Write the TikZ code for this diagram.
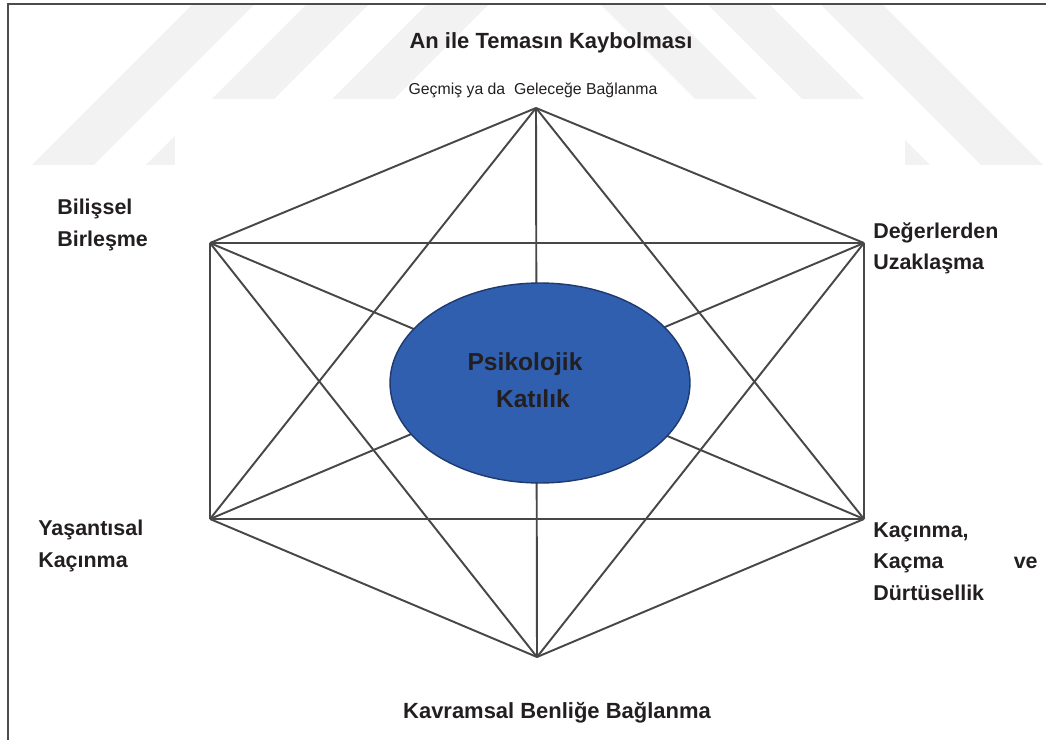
\documentclass[tikz,border=0pt]{standalone}
\usepackage{fontspec}
\setmainfont{Liberation Sans}
\usetikzlibrary{shapes.geometric}

\definecolor{corefill}{HTML}{2F5FAE}
\definecolor{coreline}{HTML}{1E3A6E}
\definecolor{textdark}{HTML}{231F20}

\begin{document}
\begin{tikzpicture}[x=0.02cm, y=-0.02cm]
    \tikzset{
        edge/.style={draw=black!72, line width=1.1pt},
        core/.style={
            ellipse, fill=corefill, draw=coreline, line width=0.8pt,
            minimum width=6cm, minimum height=4cm, inner sep=0pt,
        },
        coretext/.style={font=\fontsize{14}{21}\selectfont\bfseries, text=textdark, align=center, inner sep=0pt},
        sidetext/.style={font=\fontsize{12.2}{18}\selectfont\bfseries, text=textdark, align=left, inner sep=0pt, anchor=north west},
        band/.style={fill=black!5},
        frame/.style={draw=black!70, line width=1pt},
    }
    \useasboundingbox (0,0) rectangle (1046,740);

    % Watermark
    \begin{scope}
        \clip (0,4) rectangle (1046,165);
        \fill[band] (193,4) -- (255,4) -- (-45,304) -- (-107,304) -- cycle;
        \fill[band] (307,4) -- (369,4) -- (69,304) -- (7,304) -- cycle;
        \fill[band] (427,4) -- (489,4) -- (189,304) -- (127,304) -- cycle;
        \fill[band] (600,4) -- (662,4) -- (962,304) -- (900,304) -- cycle;
        \fill[band] (707,4) -- (769,4) -- (1069,304) -- (1007,304) -- cycle;
        \fill[band] (820,4) -- (882,4) -- (1182,304) -- (1120,304) -- cycle;
    \end{scope}
    \fill[white] (175,99) rectangle (905,700);

    % Vertices
    \coordinate (top) at (536,108);
    \coordinate (ur) at (864,243);
    \coordinate (lr) at (864,519);
    \coordinate (bot) at (537,657);
    \coordinate (ll) at (210,519);
    \coordinate (ul) at (210,243);

    % Edges
    \draw[edge] (top) -- (ur);
    \draw[edge] (top) -- (lr);
    \draw[edge] (top) -- (bot);
    \draw[edge] (top) -- (ll);
    \draw[edge] (top) -- (ul);
    \draw[edge] (ur) -- (lr);
    \draw[edge] (ur) -- (bot);
    \draw[edge] (ur) -- (ll);
    \draw[edge] (ur) -- (ul);
    \draw[edge] (lr) -- (bot);
    \draw[edge] (lr) -- (ll);
    \draw[edge] (lr) -- (ul);
    \draw[edge] (bot) -- (ll);
    \draw[edge] (bot) -- (ul);
    \draw[edge] (ll) -- (ul);

    % Centre
    \node[core] (pk) at (540,383) {};
    \node[coretext] (pktext) at (525,380) {Psikolojik\\\hspace*{9pt}Katılık};

    % Labels
    \node[font=\fontsize{12.5}{15}\selectfont\bfseries, text=textdark, anchor=base] (anile) at (551,49)
        {An ile Temasın Kaybolması};
    \node[font=\fontsize{9}{11}\selectfont, text=textdark, anchor=base] (gecmis) at (533,95)
        {Geçmiş ya da\ \ Geleceğe Bağlanma};
    \node[sidetext] (bilissel) at (57,199) {Bilişsel\\Birleşme};
    \node[sidetext] (yasantisal) at (38,520) {Yaşantısal\\Kaçınma};
    \node[sidetext] (degerler) at (873,222) {Değerlerden\\Uzaklaşma};
    \node[sidetext, text width=93.5pt] (kacinma) at (873,522) {Kaçınma,\\Kaçma\hfill ve\\Dürtüsellik};
    \node[font=\fontsize{12.5}{15}\selectfont\bfseries, text=textdark, anchor=base] (kavramsal) at (557,718)
        {Kavramsal Benliğe Bağlanma};

    % Frame
    \draw[frame] (8,740) -- (8,4) -- (1046,4);
\end{tikzpicture}
\end{document}
